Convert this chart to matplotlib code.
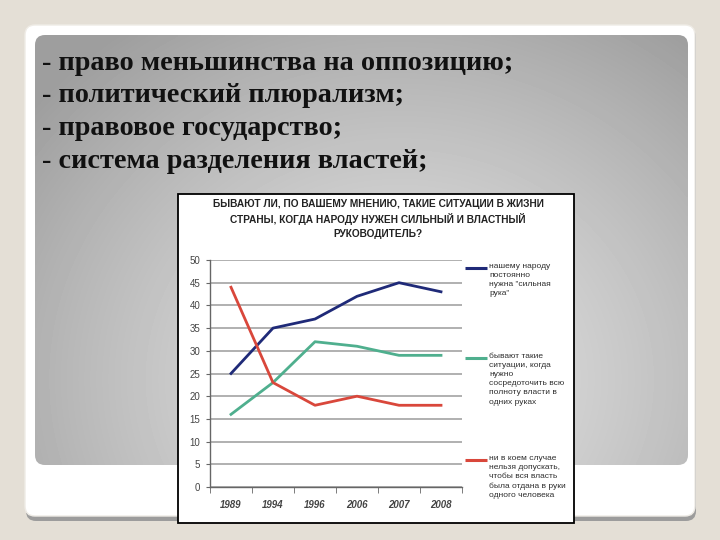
import numpy as np
import matplotlib
matplotlib.use("Agg")
import matplotlib.pyplot as plt
from matplotlib.patches import FancyBboxPatch, Rectangle

# --- data ---
years = ["1989", "1994", "1996", "2006", "2007", "2008"]
strong_hand = [25, 35, 37, 42, 45, 43]
sometimes = [16, 23, 32, 31, 29, 29]
never = [44, 23, 18, 20, 18, 18]

slide_lines = [
    "- право меньшинства на оппозицию;",
    "- политический плюрализм;",
    "- правовое государство;",
    "- система разделения властей;",
]
chart_title = ("БЫВАЮТ ЛИ, ПО ВАШЕМУ МНЕНИЮ, ТАКИЕ СИТУАЦИИ В ЖИЗНИ\n"
               "СТРАНЫ, КОГДА НАРОДУ НУЖЕН СИЛЬНЫЙ И ВЛАСТНЫЙ\n"
               "РУКОВОДИТЕЛЬ?")
legend_texts = [
    "нашему народу\nпостоянно\nнужна \"сильная\nрука\"",
    "бывают такие\nситуации, когда\nнужно\nсосредоточить всю\nполноту власти в\nодних руках",
    "ни в коем случае\nнельзя допускать,\nчтобы вся власть\nбыла отдана в руки\nодного человека",
]
series = [strong_hand, sometimes, never]
colors = ["#1f2a78", "#4faf8e", "#d9473b"]

fig = plt.figure(figsize=(7.2, 5.4), dpi=100)
fig.patch.set_facecolor("#e4dfd6")

# background / slide decoration, pixel coordinates
bg = fig.add_axes([0, 0, 1, 1])
bg.set_xlim(0, 720)
bg.set_ylim(540, 0)
bg.axis("off")

shadow = FancyBboxPatch((26, 27), 670, 494, boxstyle="round,pad=0,rounding_size=10",
                        fc="#9c9c9c", ec="none", zorder=1)
bg.add_patch(shadow)
card = FancyBboxPatch((25, 25), 670, 491, boxstyle="round,pad=0,rounding_size=10",
                      fc="white", ec="#efece6", lw=1, zorder=2)
bg.add_patch(card)

# gray gradient panel
panel = FancyBboxPatch((35, 35), 653, 430, boxstyle="round,pad=0,rounding_size=10",
                       fc="none", ec="none", zorder=3)
bg.add_patch(panel)
gx, gy = np.meshgrid(np.linspace(35, 688, 200), np.linspace(35, 465, 140))
d = np.sqrt(((gx - 400) / 420) ** 2 + ((gy - 380) / 380) ** 2)
shade = np.clip(0.89 - 0.23 * d ** 1.3, 0.62, 0.9)
img = bg.imshow(shade, cmap="gray", vmin=0, vmax=1, extent=(35, 688, 465, 35),
                aspect="auto", zorder=3, interpolation="bilinear")
img.set_clip_path(panel)

for i, line in enumerate(slide_lines):
    bg.text(42, 70 + i * 32.5, line, fontsize=20.3, fontweight="bold",
            family="Liberation Serif", color="#111111", va="baseline", zorder=5)

# white chart box
bg.add_patch(Rectangle((178, 194), 396, 329, fc="white", ec="black", lw=1.3, zorder=4))
bg.text(378, 219, chart_title, fontsize=7.3, fontweight="bold", family="Liberation Sans",
        color="#222222", ha="center", va="center", linespacing=1.45, zorder=5)

# legend entries
legend_y = [268, 358, 460]
for txt, col, y in zip(legend_texts, colors, legend_y):
    bg.plot([465, 487], [y, y], color=col, lw=2.2, zorder=5, solid_capstyle="butt")
    bg.text(489, y - 5, txt, fontsize=6, family="Liberation Sans", color="#2e2e2e",
            va="top", ha="left", linespacing=1.42, zorder=5)

# chart axes
ax = fig.add_axes([210 / 720, 53 / 540, 252 / 720, 227 / 540])
ax.set_facecolor("none")
ax.set_zorder(6)
x = np.arange(len(years))
for vals, col in zip(series, colors):
    ax.plot(x, vals, color=col, lw=2.0, zorder=3)

ax.set_xlim(-0.5, len(years) - 0.5)
ax.set_ylim(0, 50)
ax.set_yticks(np.arange(0, 51, 5))
ax.set_xticks(x)
ax.set_xticklabels(years, fontstyle="italic", fontweight="bold", fontsize=7,
                   family="Liberation Sans", color="#444444")
ax.set_xticks(np.arange(-0.5, len(years), 1), minor=True)
ax.tick_params(axis="x", which="major", length=0, pad=9)
ax.tick_params(axis="x", which="minor", length=4, color="#666666", direction="out")
ax.tick_params(axis="y", length=3, color="#666666", labelsize=7, labelcolor="#444444", pad=4)
for lab in ax.get_yticklabels():
    lab.set_family("Liberation Sans")
ax.grid(axis="y", color="#aaaaaa", lw=1.3)
ax.set_axisbelow(True)
for s in ["top", "right"]:
    ax.spines[s].set_visible(False)
for s in ["left", "bottom"]:
    ax.spines[s].set_color("#666666")
    ax.spines[s].set_linewidth(1)

fig.savefig("out.png", dpi=100)
